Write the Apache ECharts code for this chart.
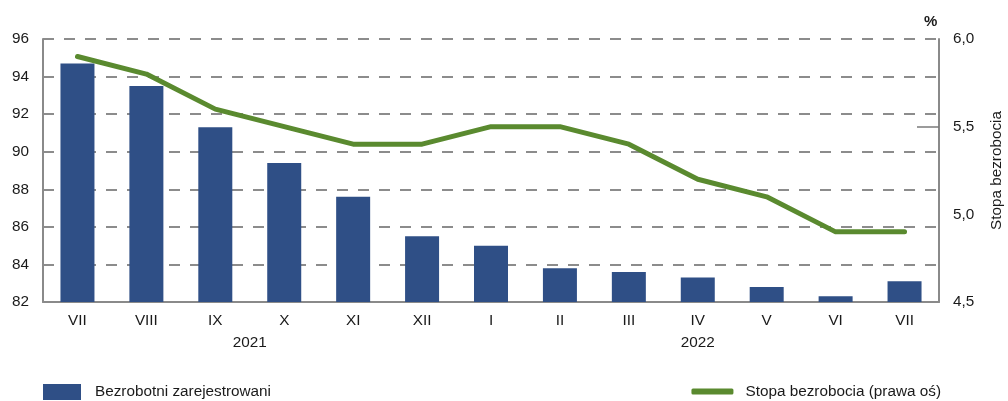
<!DOCTYPE html>
<html>
<head>
<meta charset="utf-8">
<script src="https://cdn.jsdelivr.net/npm/echarts@6/dist/echarts.min.js"></script>
<style>
html,body{margin:0;padding:0;background:#fff;}
#chart{width:1008px;height:401px;}
</style>
</head>
<body>
<div id="chart"></div>
<script>
var categories = ['VII','VIII','IX','X','XI','XII','I','II','III','IV','V','VI','VII'];
var years = ['2021','2022'];
var yearMonthCounts = [6, 7];
var unemployed = [94.7, 93.5, 91.3, 89.4, 87.6, 85.5, 85.0, 83.8, 83.6, 83.3, 82.8, 82.3, 83.1];
var rate = [5.9, 5.8, 5.6, 5.5, 5.4, 5.4, 5.5, 5.5, 5.4, 5.2, 5.1, 4.9, 4.9];
var leftTicks = [82, 84, 86, 88, 90, 92, 94, 96];
var rightTicks = [4.5, 5.0, 5.5, 6.0];
var barName = 'Bezrobotni zarejestrowani';
var lineName = 'Stopa bezrobocia (prawa oś)';
var rightAxisName = 'Stopa bezrobocia';
var unitLabel = '%';

var FONT = "'Liberation Sans', Arial, sans-serif";
var FS = 15.3;
var TXT = '#1a1a1a';
var AX = '#8a8a8a';

var yearCenters = [];
var start = 0;
for (var i = 0; i < years.length; i++) {
  yearCenters.push(start + yearMonthCounts[i] / 2);
  start += yearMonthCounts[i];
}

var chart = echarts.init(document.getElementById('chart'));
chart.setOption({
  animation: false,
  textStyle: { fontFamily: FONT },
  grid: { left: 43, right: 69, top: 39, bottom: 99, containLabel: false, outerBoundsMode: 'none' },
  legend: [
    {
      data: [barName], left: 43, top: 384, icon: 'rect', padding: 0,
      itemWidth: 38, itemHeight: 16,
      textStyle: { fontFamily: FONT, fontSize: FS, color: TXT, padding: [0, 0, 0, 9] }
    },
    {
      data: [lineName], right: 67, top: 384, icon: 'roundRect', padding: 0,
      itemWidth: 42, itemHeight: 6,
      textStyle: { fontFamily: FONT, fontSize: FS, color: TXT, padding: [0, 0, 0, 7] }
    }
  ],
  graphic: [
    { type: 'text', left: 924, top: 14, style: { text: unitLabel, font: "bold 15px " + FONT, fill: TXT } }
  ],
  xAxis: [
    {
      type: 'category', data: categories, boundaryGap: true,
      axisLine: { lineStyle: { color: AX, width: 2 } },
      axisTick: { inside: true, length: 5, lineStyle: { color: AX, width: 1.5 } },
      axisLabel: { color: TXT, fontSize: FS, fontFamily: FONT, margin: 11, interval: 0 }
    },
    {
      type: 'value', min: 0, max: categories.length, interval: 0.5, position: 'bottom', offset: 22,
      axisLine: { show: false }, axisTick: { show: false }, splitLine: { show: false },
      axisLabel: {
        color: TXT, fontSize: FS, fontFamily: FONT, margin: 11, showMinLabel: true, showMaxLabel: true,
        formatter: function (v) {
          for (var k = 0; k < yearCenters.length; k++) {
            if (Math.abs(yearCenters[k] - v) < 1e-6) return years[k];
          }
          return '';
        }
      }
    }
  ],
  yAxis: [
    {
      type: 'value', min: leftTicks[0], max: leftTicks[leftTicks.length - 1],
      interval: leftTicks[1] - leftTicks[0], position: 'left',
      axisLine: { show: true, lineStyle: { color: AX, width: 2 } },
      axisTick: { show: false },
      axisLabel: { color: TXT, fontSize: FS, fontFamily: FONT, margin: 14 },
      splitLine: { show: true, lineStyle: { color: '#8c8c8c', width: 1.8, type: [11, 10] } }
    },
    {
      type: 'value', min: rightTicks[0], max: rightTicks[rightTicks.length - 1],
      interval: rightTicks[1] - rightTicks[0], position: 'right',
      name: rightAxisName, nameLocation: 'middle', nameRotate: 90, nameGap: 50,
      nameTextStyle: { color: TXT, fontSize: FS, fontFamily: FONT },
      axisLine: { show: true, lineStyle: { color: AX, width: 2 } },
      axisTick: { show: true, inside: true, length: 22, customValues: [rightTicks[2]], lineStyle: { color: '#7a7a7a', width: 1.5 } },
      axisLabel: {
        color: TXT, fontSize: FS, fontFamily: FONT, margin: 14,
        formatter: function (v) { return v.toFixed(1).replace('.', ','); }
      },
      splitLine: { show: false }
    }
  ],
  series: [
    {
      name: barName, type: 'bar', data: unemployed, xAxisIndex: 0, yAxisIndex: 0,
      barWidth: 34, itemStyle: { color: '#2f4f86' }
    },
    {
      name: lineName, type: 'line', data: rate, xAxisIndex: 0, yAxisIndex: 1,
      symbol: 'none', lineStyle: { color: '#5a8a2f', width: 5, cap: 'round', join: 'round' },
      itemStyle: { color: '#5a8a2f' }
    }
  ]
});
</script>
</body>
</html>
